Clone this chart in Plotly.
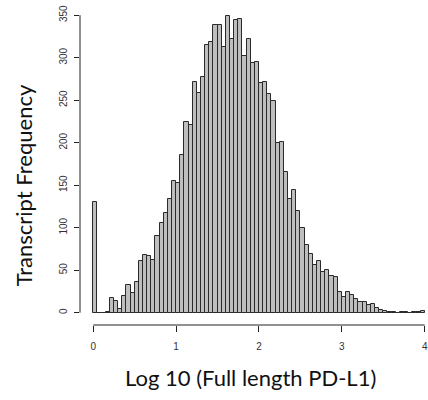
import plotly.graph_objects as go

# Histogram of log10(Full length PD-L1); bins of width 0.05 starting at 0
bin_start = 0.0
bin_width = 0.05
counts = [130, 0, 0, 1, 17, 14, 4, 20, 33, 23,
          36, 61, 68, 67, 62, 90, 106, 117, 134, 155,
          152, 185, 224, 221, 271, 259, 277, 315, 318, 338,
          338, 312, 349, 322, 344, 346, 302, 322, 294, 295,
          270, 271, 257, 249, 200, 201, 166, 134, 144, 120,
          100, 80, 69, 56, 61, 48, 50, 43, 42, 24,
          18, 24, 21, 16, 13, 13, 9, 10, 5, 3,
          2, 1, 1, 0, 1, 1, 0, 1, 1, 2]
x_ticks = [0, 1, 2, 3, 4]
y_ticks = [0, 50, 100, 150, 200, 250, 300, 350]
x_title = "Log 10 (Full length PD-L1)"
y_title = "Transcript Frequency"

centers = [bin_start + bin_width * (i + 0.5) for i in range(len(counts))]

fig = go.Figure()
fig.add_trace(go.Bar(
    x=centers, y=counts, width=bin_width,
    marker=dict(color="#BEBEBE", line=dict(color="#2a2a2a", width=1)),
    hoverinfo="x+y",
))

tick_font = dict(family="Liberation Sans, Arial", size=10, color="#333333")
title_font = dict(family="Lato, Carlito, Calibri", size=22, color="#111111")

fig.update_layout(
    width=428, height=400,
    margin=dict(l=80, r=0, t=2, b=75),
    paper_bgcolor="white", plot_bgcolor="white",
    bargap=0, showlegend=False,
    xaxis=dict(range=[-0.16, 4.016], tickvals=x_ticks, ticks="outside",
               ticklen=6, tickcolor="#222222", tickwidth=1,
               showgrid=False, zeroline=False, showline=False,
               tickfont=tick_font, ticklabelstandoff=6,
               ticklabeloverflow="allow"),
    yaxis=dict(range=[-14.5, 365.5], tickvals=y_ticks, ticks="outside",
               ticklen=5, tickcolor="#222222", tickwidth=1,
               showgrid=False, zeroline=False, showline=False,
               tickangle=-90, tickfont=tick_font, ticklabelstandoff=3,
               ticklabeloverflow="allow"),
    shapes=[
        dict(type="line", xref="paper", yref="y", x0=0, x1=0,
             y0=y_ticks[0], y1=y_ticks[-1], line=dict(color="#222222", width=1)),
        dict(type="line", xref="x", yref="paper", x0=x_ticks[0], x1=x_ticks[-1],
             y0=0, y1=0, line=dict(color="#222222", width=1)),
    ],
    annotations=[
        dict(text=x_title, xref="paper", yref="paper", x=(251 - 80) / 348,
             y=-(377 - 325) / 323, xanchor="center", yanchor="middle",
             showarrow=False, font=title_font),
        dict(text=y_title, xref="paper", yref="paper", x=-(80 - 23) / 348,
             y=(325 - 185) / 323, xanchor="center", yanchor="middle",
             textangle=-90, showarrow=False, font=title_font),
    ],
)

fig.write_html("out.html", config={"displayModeBar": False},
               post_script="document.body.style.margin='0';document.body.style.overflow='hidden';")
